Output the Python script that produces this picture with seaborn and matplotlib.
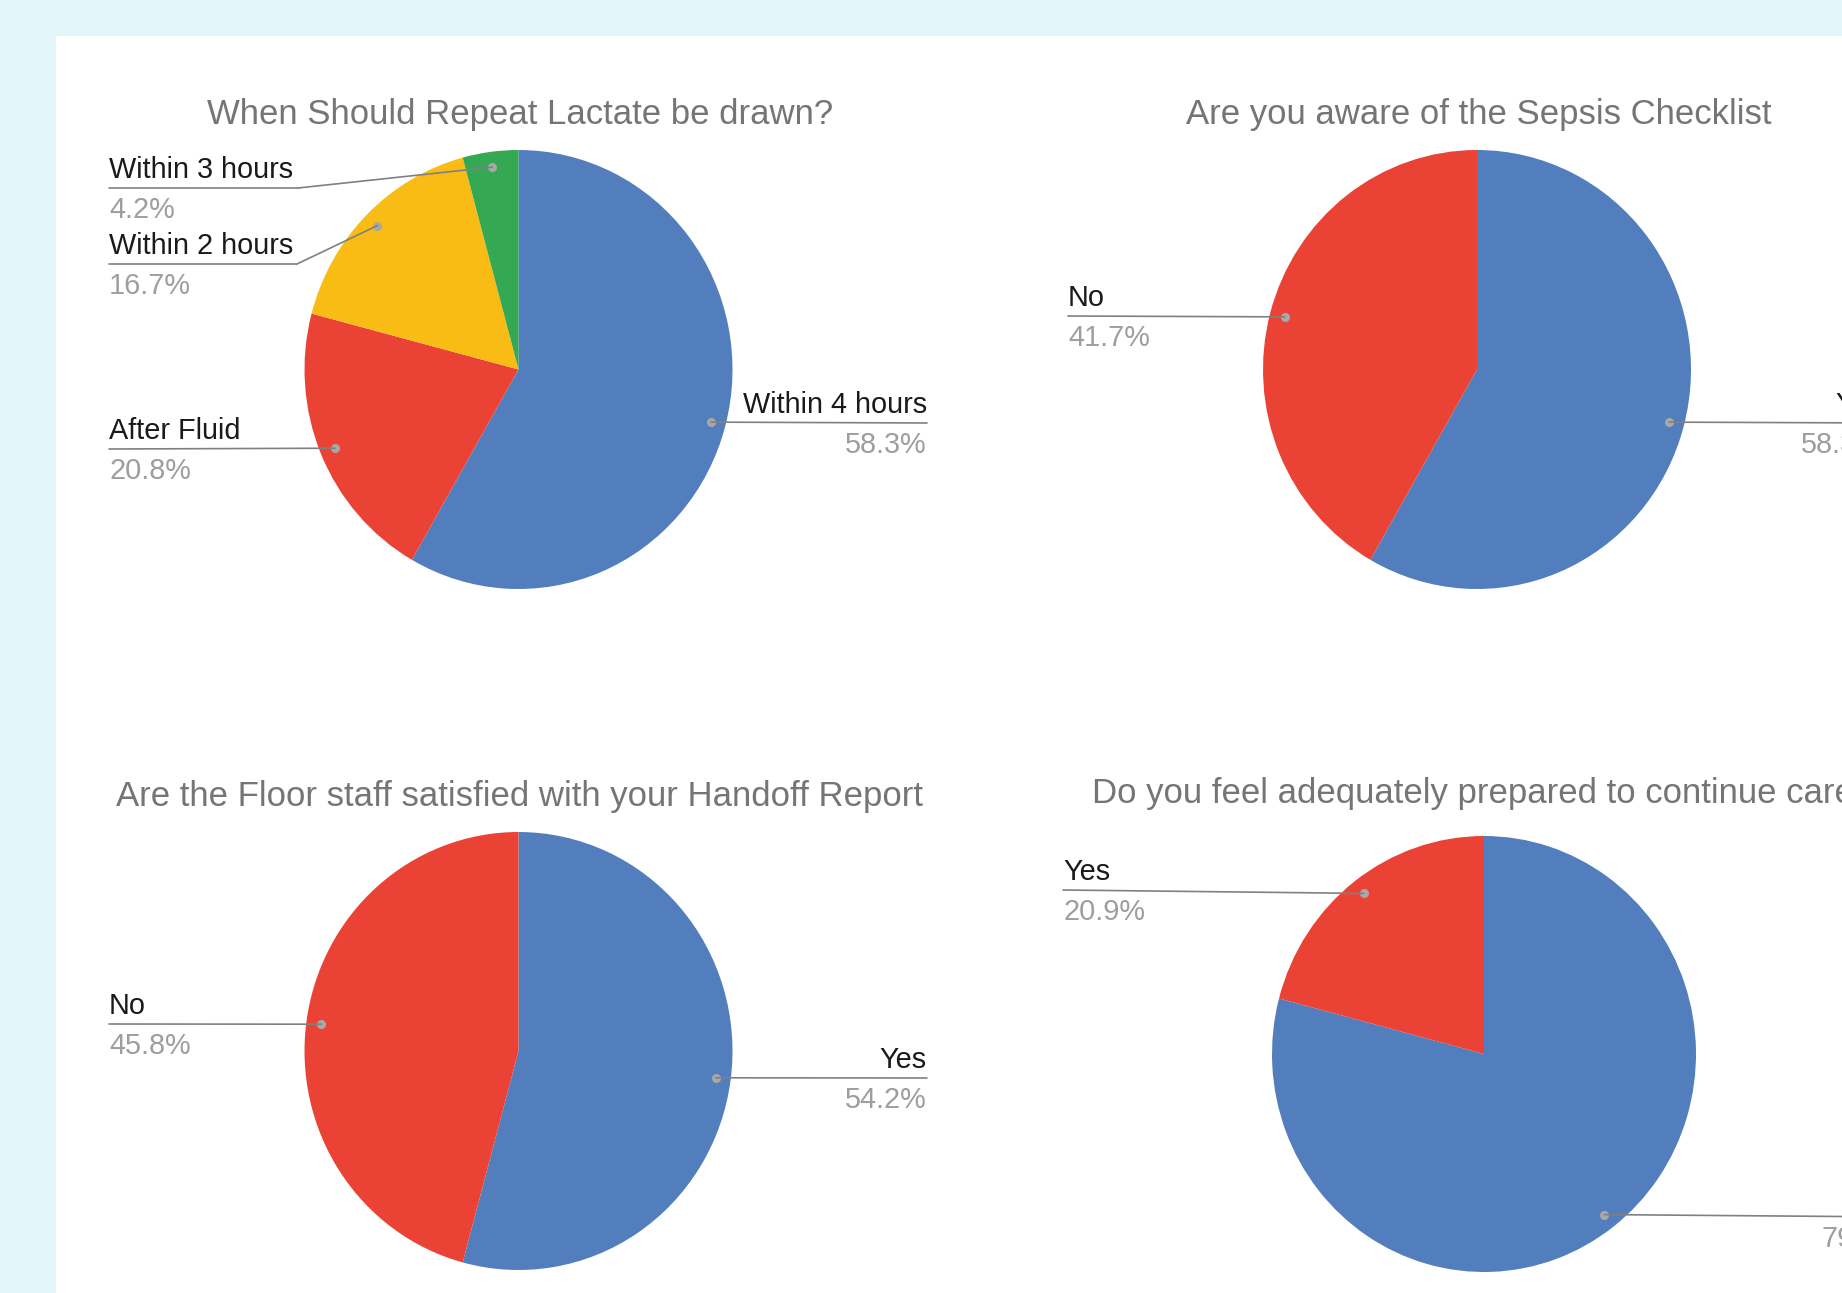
import numpy as np
import matplotlib
matplotlib.use("Agg")
import matplotlib.pyplot as plt
import seaborn as sns
from matplotlib.patches import Rectangle, ConnectionPatch

sns.set_theme(style="white")
plt.rcParams['font.family'] = ['Liberation Sans', 'DejaVu Sans']

# ---------------- data ----------------
lactate_labels = ["Within 4 hours", "After Fluid", "Within 2 hours", "Within 3 hours"]
lactate_values = [58.3, 20.8, 16.7, 4.2]

sepsis_labels = ["Yes", "No"]
sepsis_values = [58.3, 41.7]

handoff_labels = ["Yes", "No"]
handoff_values = [54.2, 45.8]

prepared_labels = ["No", "Yes"]
prepared_values = [79.1, 20.9]

titles = ["When Should Repeat Lactate be drawn?",
          "Are you aware of the Sepsis Checklist",
          "Are the Floor staff satisfied with your Handoff Report",
          "Do you feel adequately prepared to continue care?"]

# ---------------- style / layout ----------------
BLUE, RED, YELLOW, GREEN = "#537ebd", "#ea4335", "#f9bc15", "#34a853"
W, H = 1842, 1293
fig = plt.figure(figsize=(W / 100, H / 100), dpi=100)
fig.patch.set_facecolor("#e3f6fa")

bg = fig.add_axes([0, 0, 1, 1], zorder=0)
bg.set_xlim(0, W); bg.set_ylim(H, 0); bg.axis("off")
bg.add_patch(Rectangle((56, 36), W, H, facecolor="white", edgecolor="none"))

ov = fig.add_axes([0, 0, 1, 1], zorder=10)
ov.set_xlim(0, W); ov.set_ylim(H, 0); ov.axis("off")
ov.patch.set_alpha(0)

charts = [
    dict(labels=lactate_labels, values=lactate_values, colors=[BLUE, RED, YELLOW, GREEN],
         center=(518.5, 369.5), r=(214, 219.5), title=titles[0], tpos=(520, 124, "center"),
         ann={"Within 4 hours": ("R", 927, 423, None),
              "After Fluid": ("L", 109, 449, None),
              "Within 2 hours": ("L", 109, 264, 297),
              "Within 3 hours": ("L", 109, 188, 298)}),
    dict(labels=sepsis_labels, values=sepsis_values, colors=[BLUE, RED],
         center=(1477, 369.5), r=(214, 219.5), title=titles[1], tpos=(1479, 124, "center"),
         ann={"Yes": ("R", 1883, 423, None),
              "No": ("L", 1068, 316, None)}),
    dict(labels=handoff_labels, values=handoff_values, colors=[BLUE, RED],
         center=(518.5, 1051), r=(214, 219), title=titles[2], tpos=(519, 806, "center"),
         ann={"Yes": ("R", 927, 1078, None),
              "No": ("L", 109, 1024, None)}),
    dict(labels=prepared_labels, values=prepared_values, colors=[BLUE, RED],
         center=(1484, 1054), r=(212, 218), title=titles[3], tpos=(1092, 803, "left"),
         ann={"No": ("R", 1903, 1217, None),
              "Yes": ("L", 1063, 890, None)}),
]

LINE_C = "#808080"
for ch in charts:
    cx, cy = ch["center"]
    rx, ry = ch["r"]
    ax = fig.add_axes([(cx - rx) / W, 1 - (cy + ry) / H, 2 * rx / W, 2 * ry / H], zorder=5)
    ax.pie(ch["values"], colors=ch["colors"], startangle=90, counterclock=False,
           radius=1, wedgeprops=dict(linewidth=0))
    ax.set_xlim(-1, 1); ax.set_ylim(-1, 1); ax.set_aspect("auto"); ax.axis("off")

    vals = np.array(ch["values"], dtype=float)
    total = vals.sum()
    cum = np.cumsum(vals) - vals / 2
    for lab, v, c in zip(ch["labels"], vals, cum):
        theta = np.deg2rad(360 * c / total)
        px, py = 0.93 * np.sin(theta), 0.93 * np.cos(theta)
        side, tx, ly, elbow = ch["ann"][lab]
        end = (elbow if elbow is not None else tx, ly)
        con = ConnectionPatch(xyA=(px, py), coordsA=ax.transData, xyB=end, coordsB=ov.transData,
                              color=LINE_C, linewidth=1.2, zorder=11)
        fig.add_artist(con)
        if elbow is not None:
            ov.plot([tx, elbow], [ly, ly], color=LINE_C, linewidth=1.2, zorder=11)
        ax.plot(px, py, "o", color="#a8a8a8", markersize=5.5, zorder=12, clip_on=False)
        ha = "right" if side == "R" else "left"
        ov.text(tx, ly - 10, lab, ha=ha, va="baseline", fontsize=20.8, color="#1a1a1a")
        ov.text(tx, ly + 30, f"{v:.1f}%", ha=ha, va="baseline", fontsize=20.8, color="#9e9e9e")

    tx, ty, tha = ch["tpos"]
    ov.text(tx, ty, ch["title"], ha=tha, va="baseline", fontsize=25, color="#757575")

fig.savefig("out.png", dpi=100, facecolor=fig.get_facecolor())
